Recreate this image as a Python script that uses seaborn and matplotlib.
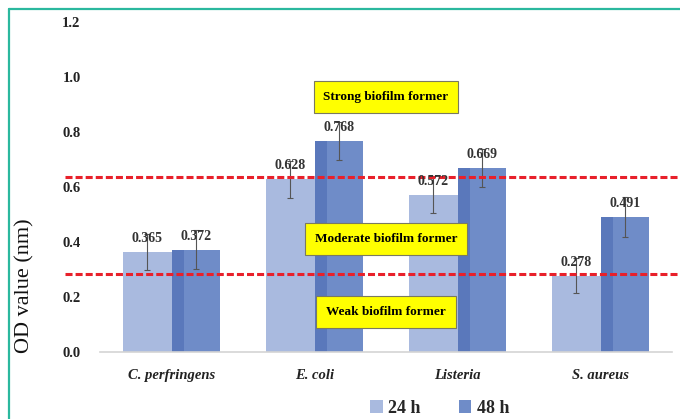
import matplotlib
matplotlib.use("Agg")
import matplotlib.pyplot as plt
import seaborn as sns
import pandas as pd
import numpy as np
from matplotlib.patches import Rectangle
from matplotlib.lines import Line2D

categories = ["C. perfringens", "E. coli", "Listeria", "S. aureus"]
times = ["24 h", "48 h"]
od_24h = [0.365, 0.628, 0.572, 0.278]
od_48h = [0.372, 0.768, 0.669, 0.491]
err_24h = [0.065, 0.068, 0.067, 0.063]
err_48h = [0.070, 0.070, 0.070, 0.073]
thresholds = [0.285, 0.635]
zone_labels = ["Weak biofilm former", "Moderate biofilm former", "Strong biofilm former"]
zone_y = [0.145, 0.41, 0.927]
yticks = [0.0, 0.2, 0.4, 0.6, 0.8, 1.0, 1.2]

df = pd.DataFrame({
    "Organism": categories * 2,
    "Time": [times[0]] * 4 + [times[1]] * 4,
    "OD": od_24h + od_48h,
})

sns.set_theme(style="white")
plt.rcParams["font.family"] = ["Liberation Serif", "DejaVu Serif"]

fig = plt.figure(figsize=(6.8, 4.19), dpi=100)
ax = fig.add_axes([100/680, 1-352/419, 572/680, 330/419])

c24 = "#a9badf"
c48 = "#6f8cc8"
sns.barplot(data=df, x="Organism", y="OD", hue="Time", order=categories,
            hue_order=times, palette=[c24, c48], width=0.68, saturation=1,
            ax=ax, errorbar=None, zorder=2, linewidth=0)

bars = [p for p in ax.patches if isinstance(p, Rectangle) and p.get_height() > 0]
bars = sorted(bars, key=lambda p: p.get_x())
vals = []
for i in range(4):
    vals += [(od_24h[i], err_24h[i], 0), (od_48h[i], err_48h[i], 1)]
for p, (v, e, h) in zip(bars, vals):
    cx = p.get_x() + p.get_width() / 2
    if h == 1:
        ax.add_patch(Rectangle((p.get_x(), p.get_y()), p.get_width() * 0.26,
                               p.get_height(), facecolor="#5a78bb",
                               edgecolor="none", linewidth=0, zorder=2.1))
    ax.errorbar(cx, v, yerr=e, fmt="none", ecolor="#555555", elinewidth=0.8,
                capsize=2, capthick=0.8, zorder=3)
    ax.annotate(f"{v:.3f}", (cx, v), xytext=(0, 5), textcoords="offset points",
                ha="center", va="bottom", fontsize=10, fontweight="bold",
                color="#333333", zorder=5)

for t in thresholds:
    ax.axhline(t, xmin=-0.061, xmax=1.02, color="#e8202a", lw=2.2,
               linestyle=(0, (2.3, 1.0)), clip_on=False, zorder=4)

for lab, y in zip(zone_labels, zone_y):
    ax.text(1.5, y, lab, ha="center", va="center", fontsize=9.5,
            fontweight="bold", color="black", zorder=6,
            bbox=dict(boxstyle="square,pad=0.75", facecolor="#ffff00",
                      edgecolor="#7a7a60", linewidth=0.8))

ax.set_ylim(0, 1.2)
ax.set_xlim(-0.5, 3.5)
ax.set_yticks(yticks)
ax.set_yticklabels([f"{v:.1f}" for v in yticks], fontsize=10.5, fontweight="bold",
                   color="#222222")
ax.tick_params(axis="y", length=0, pad=14)
ax.tick_params(axis="x", length=0, pad=12)
ax.set_xticks(range(4))
ax.set_xticklabels(categories, fontsize=10.5, fontweight="bold", fontstyle="italic",
                   color="#222222")
ax.set_xlabel("")
ax.set_ylabel("OD value (nm)", fontsize=16, color="#111111")
ax.yaxis.set_label_coords(-0.114, 0.2)
for s in ["top", "right", "left"]:
    ax.spines[s].set_visible(False)
ax.spines["bottom"].set_color("#d4d4d4")
ax.spines["bottom"].set_linewidth(1.2)

ax.legend(loc="center", bbox_to_anchor=(0.594, -0.17), ncol=2,
          frameon=False, handlelength=0.7, handleheight=0.7,
          handletextpad=0.3, columnspacing=2.1,
          prop={"family": "Liberation Serif", "weight": "bold", "size": 13})

# teal frame
fig.add_artist(Line2D([8.5/680, 8.5/680], [0, 1-9.5/419], transform=fig.transFigure,
                      color="#2bb89e", lw=1.6))
fig.add_artist(Line2D([8.5/680, 1], [1-9.5/419, 1-9.5/419], transform=fig.transFigure,
                      color="#2bb89e", lw=1.6))

fig.savefig("out.png", dpi=100)
